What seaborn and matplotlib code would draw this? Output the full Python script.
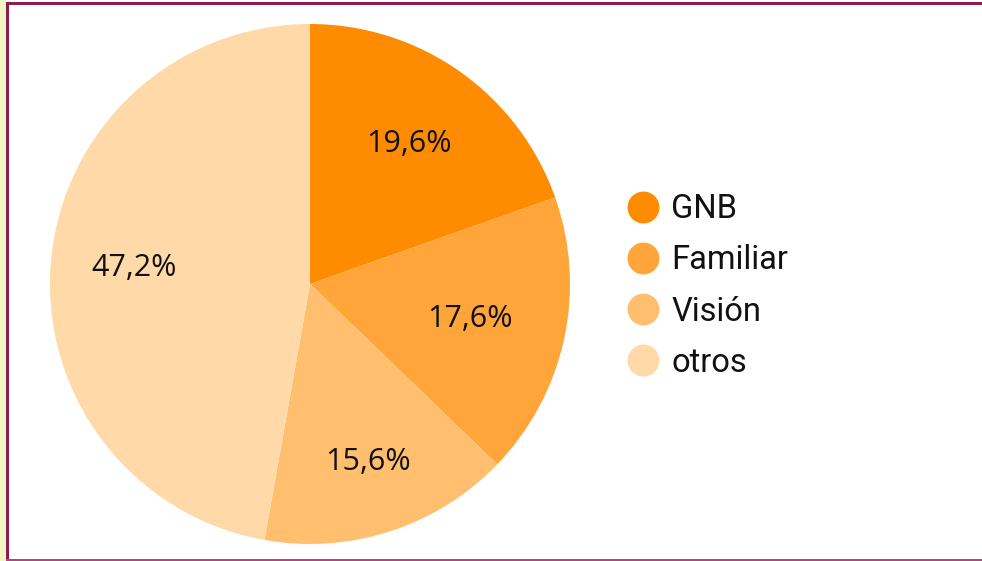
import matplotlib
matplotlib.use("Agg")
import numpy as np
import matplotlib.pyplot as plt
from matplotlib.lines import Line2D
from matplotlib.patches import Rectangle
import seaborn as sns

# values
labels = ["GNB", "Familiar", "Visión", "otros"]
shares = [19.6, 17.6, 15.6, 47.2]
pct_text = ["19,6%", "17,6%", "15,6%", "47,2%"]
colors = ["#FF8C00", "#FFA53A", "#FFBF6E", "#FFDAA8"]

# how far out each percentage sits (fraction of radius)
label_r = [0.66, 0.63, 0.72, 0.68]

sns.set_theme(style="white")
plt.rcParams["font.family"] = ["Roboto", "DejaVu Sans"]

W, H = 982, 561
fig = plt.figure(figsize=(W / 100, H / 100), dpi=100)
fig.patch.set_facecolor("white")

# pie centre at (310, 284) px, radius 260 px
cx, cy, r = 310, 284, 260
ax = fig.add_axes([(cx - r) / W, (H - cy - r) / H, 2 * r / W, 2 * r / H])
wedges, texts = ax.pie(shares, colors=colors, startangle=90, counterclock=False,
                       labels=pct_text, labeldistance=1.0,
                       textprops=dict(fontsize=22, color="#111111",
                                      family=["Open Sans", "DejaVu Sans"]),
                       wedgeprops=dict(linewidth=0))
# baseline a bit below the label point so the digits sit centred on it
half_digit = 8 / r
for t, w, lr in zip(texts, wedges, label_r):
    ang = np.deg2rad((w.theta1 + w.theta2) / 2)
    t.set_position((lr * np.cos(ang), lr * np.sin(ang) - half_digit))
    t.set_horizontalalignment("center")
    t.set_verticalalignment("baseline")
ax.set_aspect("equal")
ax.set_xlim(-1, 1)
ax.set_ylim(-1, 1)
ax.axis("off")

handles = [Line2D([], [], linestyle="None", marker="o", markersize=23,
                  markerfacecolor=c, markeredgewidth=0) for c in colors]
leg = fig.legend(handles, labels, loc="upper left", bbox_to_anchor=(623 / W, 1 - 193 / H),
                 frameon=False, fontsize=23.5, handletextpad=0.28, labelspacing=0.59,
                 handlelength=1.2, borderpad=0, borderaxespad=0)
for t in leg.get_texts():
    t.set_color("#111111")

# outer frame like the source page
fig.patches.append(Rectangle((0, 0), 6 / W, 1, transform=fig.transFigure,
                             facecolor="#F1F5C6", edgecolor="none", zorder=0))
fig.patches.append(Rectangle((6 / W, 0), 3 / W, 1 - 2 / H, transform=fig.transFigure,
                             facecolor="#8E1A55", edgecolor="none"))
fig.patches.append(Rectangle((6 / W, 1 - 5 / H), 1 - 6 / W, 3 / H, transform=fig.transFigure,
                             facecolor="#8E1A55", edgecolor="none"))
fig.patches.append(Rectangle((6 / W, 0), 1 - 6 / W, 2 / H, transform=fig.transFigure,
                             facecolor="#B0457F", edgecolor="none"))

fig.savefig("out.png", dpi=100)
